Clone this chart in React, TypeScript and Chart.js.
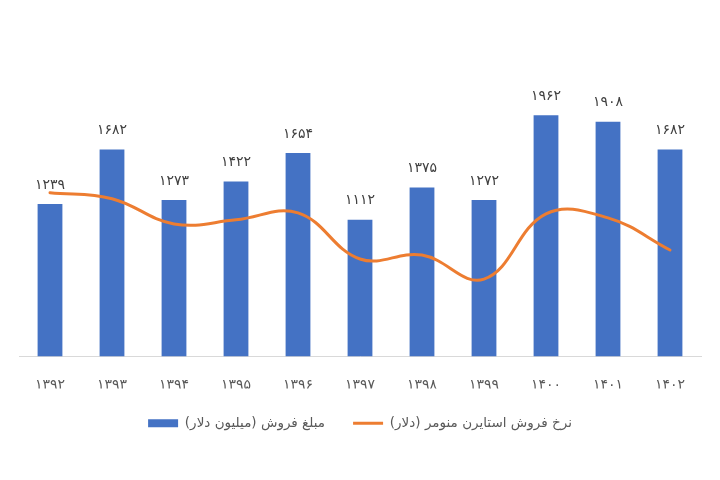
import React, { useEffect, useRef } from "react";
import { Chart, registerables } from "chart.js";

Chart.register(...registerables);

const years = ["۱۳۹۲", "۱۳۹۳", "۱۳۹۴", "۱۳۹۵", "۱۳۹۶", "۱۳۹۷", "۱۳۹۸", "۱۳۹۹", "۱۴۰۰", "۱۴۰۱", "۱۴۰۲"];
const salesValues = [1239, 1682, 1273, 1422, 1654, 1112, 1375, 1272, 1962, 1908, 1682];
const priceValues = [1332, 1283, 1078, 1111, 1168, 793, 825, 629, 1160, 1127, 866];
const salesLabel = "مبلغ فروش (میلیون دلار)";
const priceLabel = "نرخ فروش استایرن منومر (دلار)";

const FONT = "'DejaVu Sans', 'Noto Sans', sans-serif";

const faDigits = "۰۱۲۳۴۵۶۷۸۹";
function toFa(n: number): string {
  return String(n).replace(/[0-9]/g, (d) => faDigits[Number(d)]);
}

const barLabelPlugin = {
  id: "barLabels",
  afterDatasetsDraw(chart: any) {
    const meta = chart.getDatasetMeta(0);
    const ctx = chart.ctx;
    ctx.save();
    ctx.font = `14px ${FONT}`;
    ctx.fillStyle = "#404040";
    ctx.textAlign = "center";
    ctx.textBaseline = "middle";
    meta.data.forEach((el: any, i: number) => {
      ctx.fillText(toFa(salesValues[i]), el.x, el.y - 19);
    });
    ctx.restore();
  },
};

export default function App() {
  const ref = useRef<HTMLCanvasElement>(null);
  useEffect(() => {
    if (!ref.current) return;
    const chart = new Chart(ref.current, {
      type: "bar",
      data: {
        labels: years,
        datasets: [
          {
            type: "bar",
            label: salesLabel,
            data: salesValues,
            backgroundColor: "#4472C4",
            borderWidth: 0,
            barPercentage: 0.8,
            categoryPercentage: 0.5,
            pointStyle: "rect",
            order: 2,
          } as any,
          {
            type: "line",
            label: priceLabel,
            data: priceValues,
            borderColor: "#ED7D31",
            backgroundColor: "#ED7D31",
            borderWidth: 3,
            tension: 0.4,
            pointRadius: 0,
            pointStyle: "line",
            borderCapStyle: "round",
            fill: false,
            order: 1,
          } as any,
        ],
      },
      options: {
        responsive: false,
        animation: false,
        layout: { padding: { left: 19, right: 19, top: 49, bottom: 40 } },
        scales: {
          x: {
            grid: { display: false, drawTicks: false },
            border: { display: true, color: "#D9D9D9", width: 1 },
            ticks: {
              color: "#595959",
              font: { family: FONT, size: 14 },
              padding: 20,
            },
            afterFit: (axis: any) => {
              axis.height = 32;
            },
          },
          y: {
            display: false,
            min: 0,
            max: 2500,
          },
        },
        plugins: {
          tooltip: { enabled: false },
          legend: {
            position: "bottom",
            textDirection: "rtl",
            labels: {
              usePointStyle: true,
              pointStyleWidth: 30,
              boxHeight: 8,
              color: "#595959",
              font: { family: FONT, size: 13.5 },
              padding: 28,
              sort: (a: any, b: any) => a.datasetIndex - b.datasetIndex,
            },
          },
        },
      },
      plugins: [barLabelPlugin],
    });
    return () => chart.destroy();
  }, []);
  return (
    <div style={{ position: "absolute", left: 0, top: 0, width: 720, height: 480, background: "#fff" }}>
      <canvas ref={ref} width={720} height={480} />
    </div>
  );
}
